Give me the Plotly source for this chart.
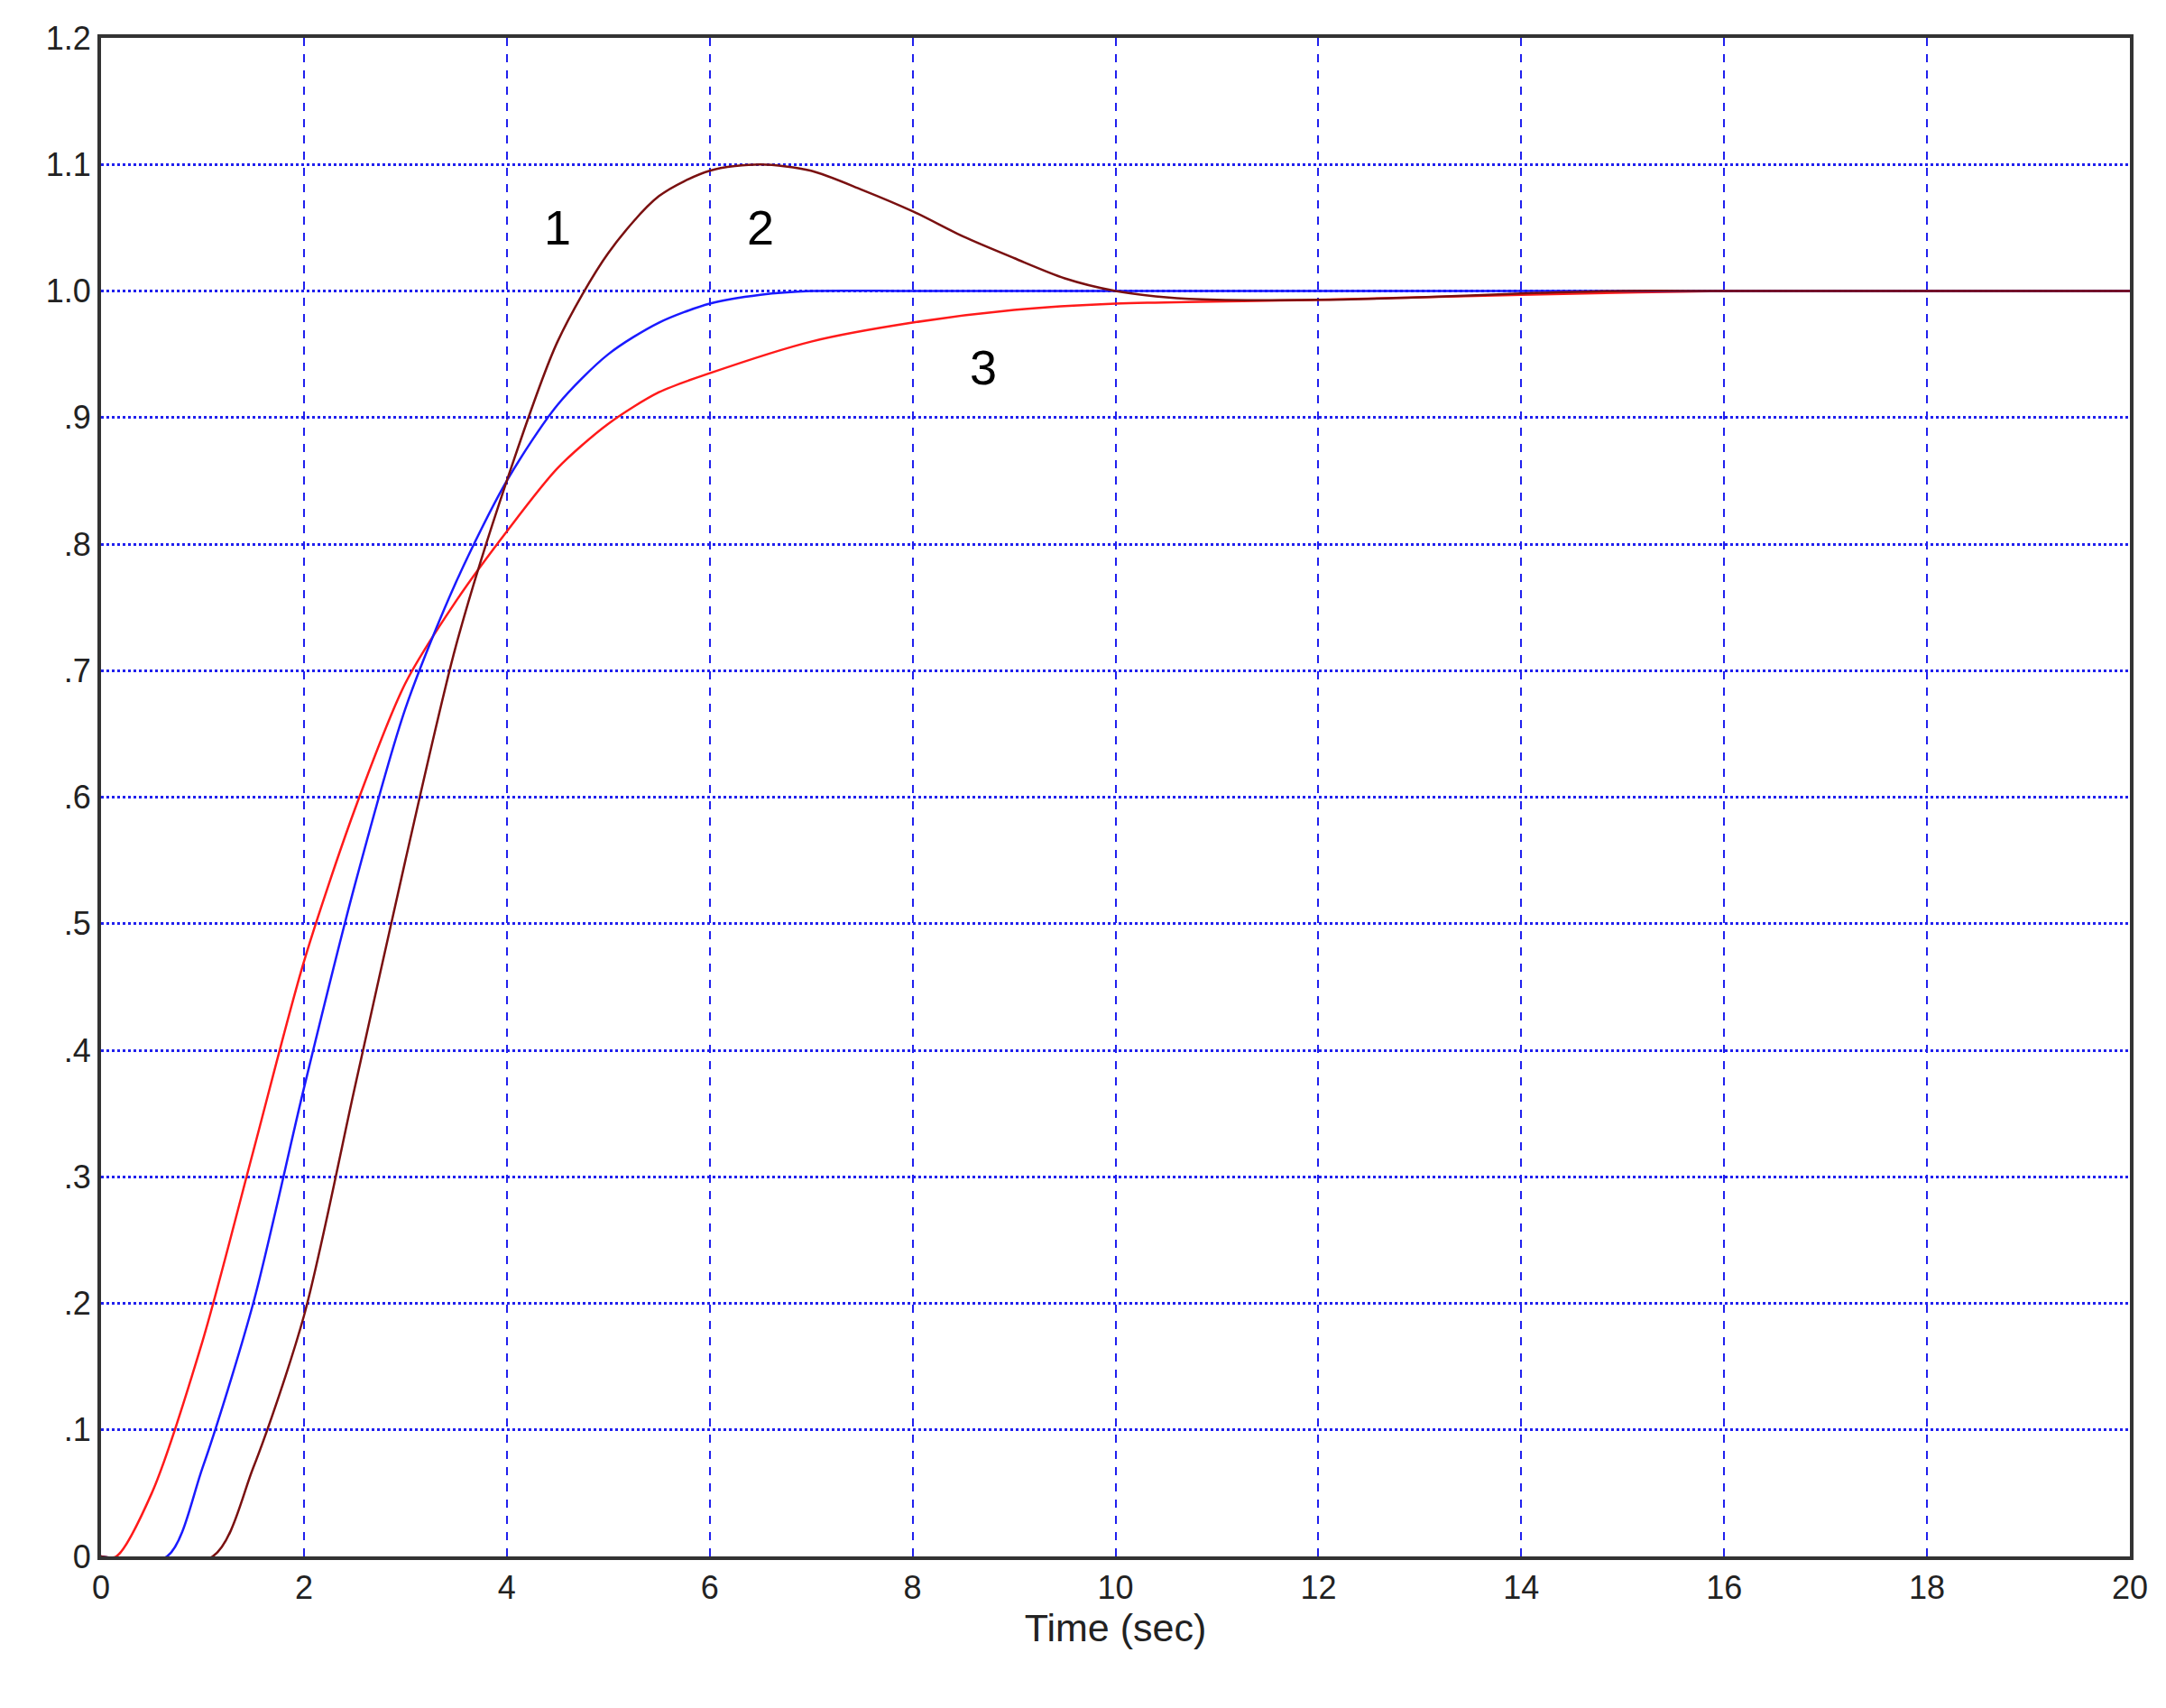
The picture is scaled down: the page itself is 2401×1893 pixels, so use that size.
import plotly.graph_objects as go

t1 = [0, 1.1, 1.5, 2, 2.5, 3, 3.5, 4, 4.5, 5, 5.5, 6, 6.5, 7, 7.5, 8, 8.5, 9, 9.5, 10, 10.5, 11, 12, 13, 14, 15, 16, 18, 20]
y1 = [0, 0, 0.07, 0.19, 0.37, 0.55, 0.72, 0.85, 0.96, 1.03, 1.075, 1.095, 1.1, 1.095, 1.08, 1.063, 1.043, 1.026, 1.01, 1.0, 0.995, 0.993, 0.993, 0.995, 0.998, 1.0, 1.0, 1.0, 1.0]
t2 = [0, 0.65, 1, 1.5, 2, 2.5, 3, 3.5, 4, 4.5, 5, 5.5, 6, 6.5, 7, 8, 10, 15, 20]
y2 = [0, 0, 0.07, 0.2, 0.37, 0.53, 0.67, 0.77, 0.85, 0.91, 0.95, 0.975, 0.99, 0.997, 1.0, 1.0, 1.0, 1.0, 1.0]
t3 = [0, 0.15, 0.5, 1, 1.5, 2, 2.5, 3, 3.5, 4, 4.5, 5, 5.5, 6, 7, 8, 9, 10, 12, 14, 16, 20]
y3 = [0, 0, 0.05, 0.17, 0.32, 0.47, 0.59, 0.69, 0.755, 0.81, 0.86, 0.895, 0.92, 0.935, 0.96, 0.975, 0.985, 0.99, 0.993, 0.997, 1.0, 1.0]
labels = ["1", "2", "3"]
label_x = [4.5, 6.5, 8.7]
label_y = [1.05, 1.05, 0.94]
yticks = [0, 0.1, 0.2, 0.3, 0.4, 0.5, 0.6, 0.7, 0.8, 0.9, 1.0, 1.1, 1.2]
yticktext = ["0", ".1", ".2", ".3", ".4", ".5", ".6", ".7", ".8", ".9", "1.0", "1.1", "1.2"]
xticks = list(range(0, 21, 2))

fig = go.Figure()
for t, y, c in [(t3, y3, "#ff1a1a"), (t2, y2, "#1a1aff"), (t1, y1, "#7a1010")]:
    fig.add_trace(go.Scatter(x=t, y=y, mode="lines", line=dict(color=c, width=2.5, shape="spline", smoothing=0.8), showlegend=False))
for s, x, y in zip(labels, label_x, label_y):
    fig.add_annotation(x=x, y=y, text=s, showarrow=False, font=dict(size=54, color="black", family="Liberation Sans"))

fig.update_layout(
    width=2401, height=1893, paper_bgcolor="white", plot_bgcolor="white",
    margin=dict(l=104, r=48, t=34, b=176),
    font=dict(family="Liberation Sans", size=36, color="#222"),
)
fig.update_xaxes(range=[0, 20], tickvals=xticks, showgrid=True, gridcolor="#2020ee", griddash="dash", gridwidth=2,
                 showline=True, linecolor="#333", linewidth=4, mirror=True, ticks="", zeroline=False,
                 title=dict(text="Time (sec)", standoff=10))
fig.update_yaxes(range=[0, 1.2], tickvals=yticks, ticktext=yticktext, showgrid=True, gridcolor="#2020ee", griddash="dot", gridwidth=3,
                 showline=True, linecolor="#333", linewidth=4, mirror=True, ticks="", zeroline=False)
fig.write_html("out.html")
